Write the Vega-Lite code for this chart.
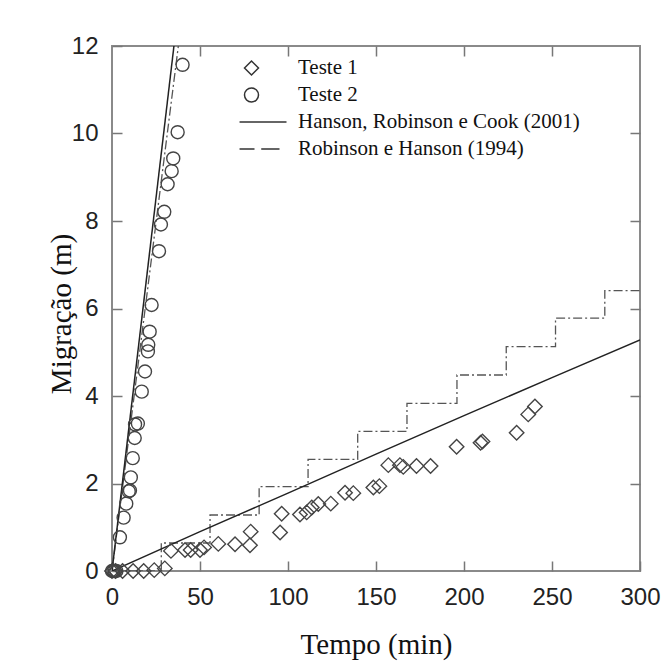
{
  "$schema": "https://vega.github.io/schema/vega-lite/v6.json",
  "width": 528,
  "height": 525,
  "autosize": {"type": "none"},
  "padding": {"left": 112, "top": 46, "right": 31, "bottom": 101},
  "background": "white",
  "datasets": {
    "teste1": [
      {"t": 0, "m": 0, "serie": "Teste 1"},
      {"t": 2, "m": 0, "serie": "Teste 1"},
      {"t": 6, "m": 0, "serie": "Teste 1"},
      {"t": 12, "m": 0, "serie": "Teste 1"},
      {"t": 18, "m": 0, "serie": "Teste 1"},
      {"t": 24, "m": 0.02, "serie": "Teste 1"},
      {"t": 30, "m": 0.06, "serie": "Teste 1"},
      {"t": 33.5, "m": 0.46, "serie": "Teste 1"},
      {"t": 41.5, "m": 0.48, "serie": "Teste 1"},
      {"t": 44.7, "m": 0.48, "serie": "Teste 1"},
      {"t": 50, "m": 0.48, "serie": "Teste 1"},
      {"t": 52.3, "m": 0.54, "serie": "Teste 1"},
      {"t": 60.4, "m": 0.62, "serie": "Teste 1"},
      {"t": 69.9, "m": 0.61, "serie": "Teste 1"},
      {"t": 78.4, "m": 0.59, "serie": "Teste 1"},
      {"t": 78.8, "m": 0.9, "serie": "Teste 1"},
      {"t": 95.5, "m": 0.88, "serie": "Teste 1"},
      {"t": 96.4, "m": 1.31, "serie": "Teste 1"},
      {"t": 106.8, "m": 1.29, "serie": "Teste 1"},
      {"t": 110.6, "m": 1.34, "serie": "Teste 1"},
      {"t": 113.5, "m": 1.45, "serie": "Teste 1"},
      {"t": 117.2, "m": 1.53, "serie": "Teste 1"},
      {"t": 124.3, "m": 1.54, "serie": "Teste 1"},
      {"t": 132.4, "m": 1.79, "serie": "Teste 1"},
      {"t": 137.1, "m": 1.78, "serie": "Teste 1"},
      {"t": 148.5, "m": 1.91, "serie": "Teste 1"},
      {"t": 151.9, "m": 1.94, "serie": "Teste 1"},
      {"t": 157, "m": 2.42, "serie": "Teste 1"},
      {"t": 163.6, "m": 2.42, "serie": "Teste 1"},
      {"t": 165.5, "m": 2.38, "serie": "Teste 1"},
      {"t": 173, "m": 2.4, "serie": "Teste 1"},
      {"t": 181, "m": 2.4, "serie": "Teste 1"},
      {"t": 195.8, "m": 2.84, "serie": "Teste 1"},
      {"t": 209.4, "m": 2.93, "serie": "Teste 1"},
      {"t": 210.5, "m": 2.96, "serie": "Teste 1"},
      {"t": 229.9, "m": 3.16, "serie": "Teste 1"},
      {"t": 236.5, "m": 3.58, "serie": "Teste 1"},
      {"t": 240.3, "m": 3.76, "serie": "Teste 1"}
    ],
    "teste2": [
      {"t": 0, "m": 0, "serie": "Teste 2"},
      {"t": 0.8, "m": 0, "serie": "Teste 2"},
      {"t": 1.6, "m": 0, "serie": "Teste 2"},
      {"t": 2.5, "m": 0, "serie": "Teste 2"},
      {"t": 4.5, "m": 0.77, "serie": "Teste 2"},
      {"t": 6.6, "m": 1.22, "serie": "Teste 2"},
      {"t": 8.1, "m": 1.54, "serie": "Teste 2"},
      {"t": 9.5, "m": 1.82, "serie": "Teste 2"},
      {"t": 10.2, "m": 1.84, "serie": "Teste 2"},
      {"t": 10.7, "m": 2.14, "serie": "Teste 2"},
      {"t": 11.8, "m": 2.58, "serie": "Teste 2"},
      {"t": 12.9, "m": 3.04, "serie": "Teste 2"},
      {"t": 13.1, "m": 3.35, "serie": "Teste 2"},
      {"t": 14.7, "m": 3.37, "serie": "Teste 2"},
      {"t": 16.9, "m": 4.1, "serie": "Teste 2"},
      {"t": 18.75, "m": 4.56, "serie": "Teste 2"},
      {"t": 20.4, "m": 5.02, "serie": "Teste 2"},
      {"t": 20.6, "m": 5.17, "serie": "Teste 2"},
      {"t": 21.4, "m": 5.47, "serie": "Teste 2"},
      {"t": 22.5, "m": 6.08, "serie": "Teste 2"},
      {"t": 26.7, "m": 7.31, "serie": "Teste 2"},
      {"t": 27.8, "m": 7.92, "serie": "Teste 2"},
      {"t": 29.7, "m": 8.21, "serie": "Teste 2"},
      {"t": 31.6, "m": 8.84, "serie": "Teste 2"},
      {"t": 33.9, "m": 9.14, "serie": "Teste 2"},
      {"t": 34.8, "m": 9.43, "serie": "Teste 2"},
      {"t": 37.3, "m": 10.03, "serie": "Teste 2"},
      {"t": 40.1, "m": 11.57, "serie": "Teste 2"}
    ],
    "hanson": [
      {"t": 0, "m": 0, "trecho": "teste2"},
      {"t": 35.2, "m": 12, "trecho": "teste2"},
      {"t": 0, "m": 0, "trecho": "teste1"},
      {"t": 50, "m": 0.9, "trecho": "teste1"},
      {"t": 100, "m": 1.78, "trecho": "teste1"},
      {"t": 150, "m": 2.67, "trecho": "teste1"},
      {"t": 200, "m": 3.55, "trecho": "teste1"},
      {"t": 250, "m": 4.42, "trecho": "teste1"},
      {"t": 300, "m": 5.28, "trecho": "teste1"}
    ],
    "robinson": [
      {"t": 0, "m": 0, "tipo": "reta"},
      {"t": 37.7, "m": 12, "tipo": "reta"},
      {"t": 0, "m": 0, "tipo": "escada"},
      {"t": 28, "m": 0.64, "tipo": "escada"},
      {"t": 55.7, "m": 1.28, "tipo": "escada"},
      {"t": 83.6, "m": 1.93, "tipo": "escada"},
      {"t": 111.4, "m": 2.55, "tipo": "escada"},
      {"t": 139.6, "m": 3.19, "tipo": "escada"},
      {"t": 167.6, "m": 3.83, "tipo": "escada"},
      {"t": 196, "m": 4.48, "tipo": "escada"},
      {"t": 224, "m": 5.13, "tipo": "escada"},
      {"t": 252, "m": 5.78, "tipo": "escada"},
      {"t": 280, "m": 6.41, "tipo": "escada"},
      {"t": 300, "m": 6.41, "tipo": "escada"}
    ]
  },
  "config": {
    "view": {"stroke": "#8a8a8a", "strokeWidth": 2},
    "axis": {
      "domain": false,
      "grid": false,
      "tickSize": -10,
      "tickColor": "#777777",
      "tickWidth": 1.5,
      "labelFont": "Liberation Sans",
      "labelFontSize": 24,
      "labelColor": "#222222",
      "labelFlush": false,
      "labelOverlap": false,
      "titleFont": "Liberation Serif",
      "titleFontSize": 29,
      "titleFontWeight": "normal",
      "titleColor": "#111111"
    },
    "legend": {
      "orient": "none",
      "legendX": 129,
      "legendY": 11.5,
      "padding": 0,
      "title": null,
      "labelFont": "Liberation Serif",
      "labelFontSize": 21,
      "labelColor": "#111111",
      "labelLimit": 500,
      "labelOffset": 36,
      "rowPadding": 5,
      "symbolSize": 196,
      "symbolStrokeColor": "#333333",
      "symbolFillColor": "transparent",
      "symbolStrokeWidth": 1.5
    }
  },
  "layer": [
    {
      "data": {"name": "robinson"},
      "transform": [{"filter": "datum.tipo === 'escada'"}],
      "mark": {"type": "line", "interpolate": "step-after", "stroke": "#555555", "strokeWidth": 1.3, "strokeDash": [9, 3, 2, 3], "clip": true},
      "encoding": {
        "x": {
          "field": "t", "type": "quantitative",
          "scale": {"domain": [0, 300], "nice": false},
          "axis": {
            "orient": "bottom",
            "values": [0, 50, 100, 150, 200, 250, 300],
            "labelPadding": 24,
            "title": "Tempo (min)",
            "titleX": 264,
            "titleY": 82,
            "titleBaseline": "alphabetic",
            "titleAlign": "center"
          }
        },
        "y": {
          "field": "m", "type": "quantitative",
          "scale": {"domain": [0, 12], "nice": false},
          "axis": {
            "orient": "left",
            "values": [0, 2, 4, 6, 8, 10, 12],
            "labelPadding": 24,
            "title": "Migração (m)",
            "titleX": -42,
            "titleY": 267.5,
            "titleAngle": 270,
            "titleBaseline": "alphabetic",
            "titleAlign": "center"
          }
        }
      }
    },
    {
      "data": {"name": "robinson"},
      "transform": [{"filter": "datum.tipo === 'reta'"}],
      "mark": {"type": "line", "stroke": "#555555", "strokeWidth": 1.3, "strokeDash": [9, 3, 2, 3], "clip": true},
      "encoding": {
        "x": {
          "field": "t", "type": "quantitative",
          "axis": {"orient": "top", "values": [50, 100, 150, 200, 250], "labels": false, "title": null}
        },
        "y": {
          "field": "m", "type": "quantitative",
          "axis": {"orient": "right", "values": [2, 4, 6, 8, 10], "labels": false, "title": null}
        }
      }
    },
    {
      "data": {"name": "hanson"},
      "mark": {"type": "line", "stroke": "#222222", "strokeWidth": 1.5, "clip": true},
      "encoding": {
        "x": {"field": "t", "type": "quantitative", "axis": null},
        "y": {"field": "m", "type": "quantitative", "axis": null},
        "detail": {"field": "trecho"}
      }
    },
    {
      "data": {"name": "teste1"},
      "mark": {"type": "point", "filled": false, "stroke": "#444444", "strokeWidth": 1.4, "size": 210, "opacity": 1},
      "encoding": {
        "x": {"field": "t", "type": "quantitative", "axis": null},
        "y": {"field": "m", "type": "quantitative", "axis": null},
        "shape": {
          "field": "serie", "type": "nominal",
          "scale": {
            "domain": ["Teste 1", "Teste 2", "Hanson, Robinson e Cook (2001)", "Robinson e Hanson (1994)"],
            "range": ["diamond", "circle", "M-1.71,0L5,0", "M-1.71,0L0.43,0M1.39,0L4,0"]
          }
        }
      }
    },
    {
      "data": {"name": "teste2"},
      "mark": {"type": "point", "filled": false, "stroke": "#444444", "strokeWidth": 1.4, "size": 169, "opacity": 1},
      "encoding": {
        "x": {"field": "t", "type": "quantitative", "axis": null},
        "y": {"field": "m", "type": "quantitative", "axis": null},
        "shape": {
          "field": "serie", "type": "nominal",
          "scale": {
            "domain": ["Teste 1", "Teste 2", "Hanson, Robinson e Cook (2001)", "Robinson e Hanson (1994)"],
            "range": ["diamond", "circle", "M-1.71,0L5,0", "M-1.71,0L0.43,0M1.39,0L4,0"]
          }
        }
      }
    }
  ],
  "resolve": {"axis": {"x": "independent", "y": "independent"}}
}
